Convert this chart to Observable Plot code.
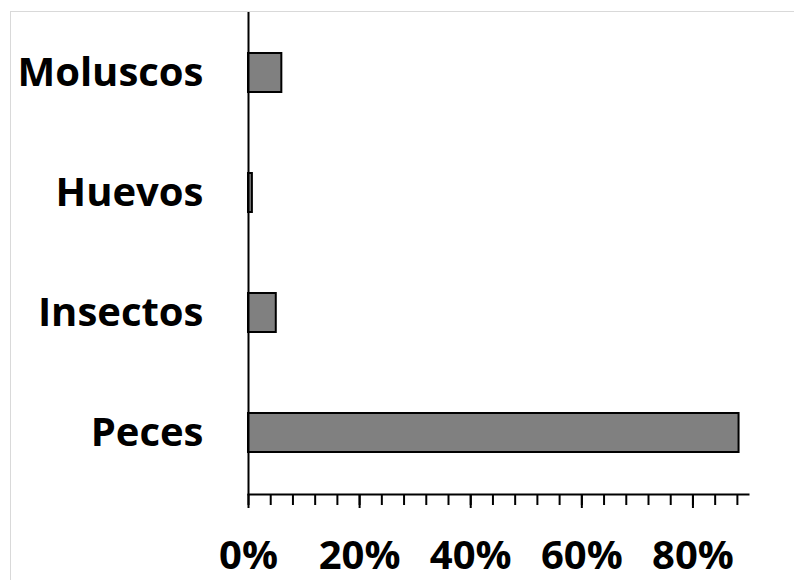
<!DOCTYPE html>
<html>
<head>
<meta charset="utf-8">
<script src="https://cdn.jsdelivr.net/npm/d3@7"></script>
<script src="https://cdn.jsdelivr.net/npm/@observablehq/plot@0.6"></script>
<style>
  html, body { margin: 0; padding: 0; background: #fff; }
  #wrap { position: relative; width: 794px; height: 580px; overflow: hidden; }
  #box { position: absolute; left: 10px; top: 11px; width: 800px; height: 600px;
         border-left: 1.5px solid #d9d9d9; border-top: 1.5px solid #d9d9d9; pointer-events: none; }
  svg { font-family: "Open Sans", sans-serif; }
</style>
</head>
<body>
<div id="wrap"><div id="box"></div></div>
<script>
// Diet composition (% of items)
const categories = ["Moluscos", "Huevos", "Insectos", "Peces"];
const shares = [6.0, 0.7, 5.0, 88.3];
const majorTicks = [0, 20, 40, 60, 80];
const minorTicks = d3.range(0, 90, 4);

const data = categories.map((c, i) => ({category: c, share: shares[i]}));

const chart = Plot.plot({
  width: 794,
  height: 580,
  marginLeft: 248,
  marginRight: 46,
  marginTop: 11,
  marginBottom: 86,
  x: {domain: [0, 90]},
  y: {domain: categories, paddingInner: 0.677, paddingOuter: 0.34},
  style: {fontFamily: "Open Sans, sans-serif", color: "black", background: "transparent"},
  marks: [
    Plot.barX(data, {x: "share", y: "category", fill: "#808080", stroke: "black", strokeWidth: 2}),
    Plot.ruleX([0], {stroke: "black", strokeWidth: 2}),
    Plot.frame({anchor: "bottom", stroke: "black", strokeWidth: 2}),
    Plot.axisX({ticks: minorTicks, tickSize: 11, strokeWidth: 2, tickFormat: () => "", label: null}),
    Plot.axisX({ticks: majorTicks, tickSize: 14, tickPadding: 32, strokeWidth: 2,
                tickFormat: d => d + "%", fontSize: 40, fontWeight: "bold", label: null}),
    Plot.axisY({tickSize: 0, tickPadding: 45, fontSize: 40, fontWeight: "bold", label: null})
  ]
});

document.getElementById("wrap").prepend(chart);
</script>
</body>
</html>
